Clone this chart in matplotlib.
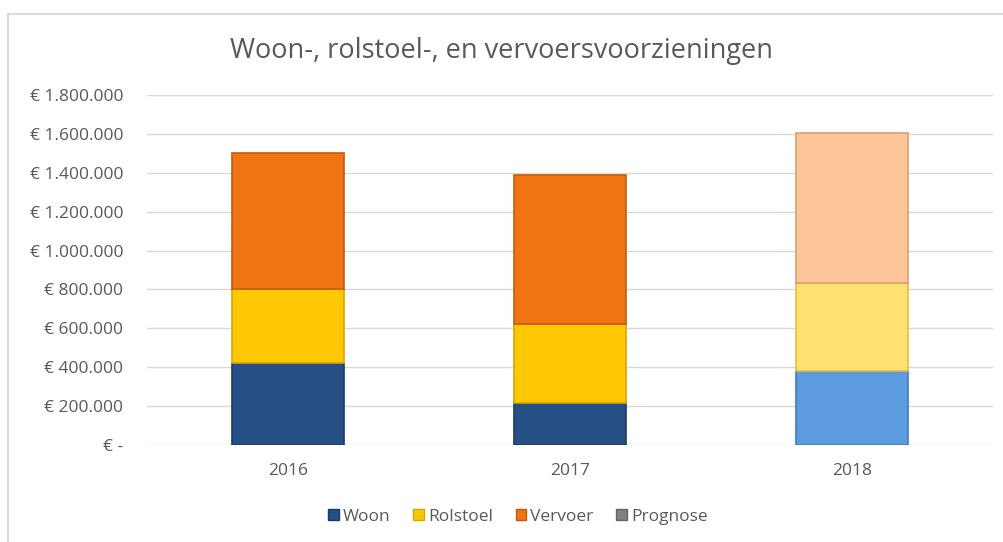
import numpy as np
import matplotlib.pyplot as plt
from matplotlib.patches import Patch, Rectangle

plt.rcParams['font.family'] = ['Open Sans', 'DejaVu Sans']

jaren = ['2016', '2017', '2018']
woon = [420000, 215000, 383000]
rolstoel = [382000, 405000, 450000]
vervoer = [700000, 770000, 770000]

# kleuren: realisatie, en lichtere tint voor de prognose (2018)
kleur_woon = ['#264F86', '#264F86', '#5B9BDE']
kleur_rol = ['#FFC803', '#FFC803', '#FFE271']
kleur_verv = ['#F07314', '#F07314', '#FDC698']
rand_woon = ['#1A3A66', '#1A3A66', '#3F7BC0']
rand_rol = ['#D9A500', '#D9A500', '#E0BE4A']
rand_verv = ['#C25A0C', '#C25A0C', '#D9A070']

fig = plt.figure(figsize=(10.04, 5.42), dpi=100)
ax = fig.add_axes([0.1464, 0.179, 0.8426, 0.6457])

x = np.arange(len(jaren))
breedte = 0.4
onder = np.zeros(len(jaren))
for waarden, kleuren, randen in [(woon, kleur_woon, rand_woon),
                                 (rolstoel, kleur_rol, rand_rol),
                                 (vervoer, kleur_verv, rand_verv)]:
    ax.bar(x, waarden, breedte, bottom=onder, color=kleuren,
           edgecolor=randen, linewidth=1.2, zorder=3)
    onder += np.array(waarden)

ax.set_xlim(-0.5, 2.5)
ax.set_ylim(0, 1800000)
ticks = np.arange(0, 1800001, 200000)
ax.set_yticks(ticks)
labels = ['€ -'] + ['€ ' + f'{t:,.0f}'.replace(',', '.') for t in ticks[1:]]
ax.set_yticklabels(labels)
ax.set_xticks(x)
ax.set_xticklabels(jaren)
ax.tick_params(axis='both', length=0, labelsize=12.5, colors='#595959')
ax.tick_params(axis='y', pad=17)
ax.tick_params(axis='x', pad=13)
ax.yaxis.grid(True, color='#D9D9D9', linewidth=1, zorder=0)
for s in ax.spines.values():
    s.set_visible(False)

fig.text(0.5, 0.905, 'Woon-, rolstoel-, en vervoersvoorzieningen',
         ha='center', va='center', fontsize=19.5, color='#595959')

# rand om de grafiek
fig.patches.append(Rectangle((0.008, -0.05), 1.1, 1.024, transform=fig.transFigure,
                             fill=False, edgecolor='#D9D9D9', linewidth=1.5))

handles = [Patch(facecolor='#264F86', edgecolor='#1A3A66'),
           Patch(facecolor='#FFC803', edgecolor='#D9A500'),
           Patch(facecolor='#F07314', edgecolor='#C25A0C'),
           Patch(facecolor='#808080', edgecolor='#666666')]
fig.legend(handles, ['Woon', 'Rolstoel', 'Vervoer', 'Prognose'],
           loc='center', bbox_to_anchor=(0.516, 0.046), ncol=4, frameon=False,
           fontsize=12.5, labelcolor='#595959', handlelength=0.6, handleheight=0.6,
           handletextpad=0.25, columnspacing=1.3)

fig.savefig('out.png', dpi=100)
